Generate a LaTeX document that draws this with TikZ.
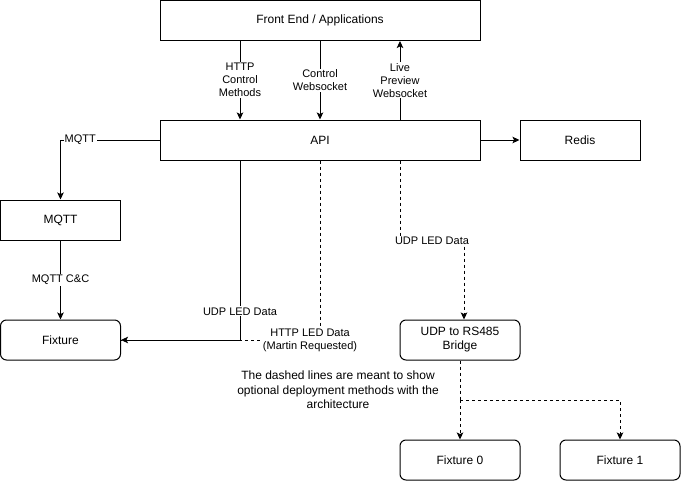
\documentclass[tikz,border=0pt]{standalone}
\usepackage{fontspec}
\setmainfont{Liberation Sans}
\usetikzlibrary{arrows.meta}
\begin{document}
\begin{tikzpicture}[x=1pt,y=-1pt, line width=1pt,
 box/.style={draw, minimum width=120pt, minimum height=40pt, inner sep=0pt, align=center, font=\fontsize{12}{14}\selectfont},
 rbox/.style={box, rounded corners=6pt},
 arr/.style={-{Stealth[length=7pt,width=6.5pt,inset=1.5pt]}},
 dsh/.style={dash pattern=on 3pt off 3pt},
 lbl/.style={fill=white, inner sep=1pt, align=center, font=\fontsize{11}{13}\selectfont}]
\useasboundingbox (0,0) rectangle (681,482);
\node[box, minimum width=320pt] (fe) at (320,20.5) {Front End / Applications};
\node[box, minimum width=320pt] (api) at (320,140) {API};
\node[box] (redis) at (580,140) {Redis};
\node[box] (mqtt) at (60.5,220) {MQTT};
\node[rbox] (fix) at (60.5,340) {Fixture};
\node[rbox] (bridge) at (460,340) {UDP to RS485\\Bridge};
\node[rbox] (f0) at (460,460) {Fixture 0};
\node[rbox] (f1) at (620,460) {Fixture 1};
\node[align=center, font=\fontsize{12}{14.5}\selectfont] (note) at (338,390) {The dashed lines are meant to show\\optional deployment methods with the\\architecture};
\coordinate (u1) at (400,241);
\coordinate (u2) at (464,241);
\coordinate (sp) at (460,400);
% front end <-> api
\draw[arr] ([xshift=-80pt]fe.south) -- node[lbl]{HTTP\\Control\\Methods} ([xshift=-80pt]api.north);
\draw[arr] (fe.south) -- node[lbl]{Control\\Websocket} (api.north);
\draw[arr] ([xshift=80pt]api.north) -- node[lbl]{Live\\Preview\\Websocket} ([xshift=80pt]fe.south);
% api -> mqtt, redis
\draw[arr] (api.west) -| node[lbl, pos=0.4]{MQTT} (mqtt.north);
\draw[arr] (api.east) -- (redis.west);
\draw[arr] (mqtt.south) -- node[lbl]{MQTT C\&C} (fix.north);
% api -> fixture
\draw[dsh] (api.south) |- node[lbl, pos=0.525]{HTTP LED Data\\(Martin Requested)} (fix.east);
\draw[arr] ([xshift=-80pt]api.south) |- node[lbl, pos=0.42]{UDP LED Data} (fix.east);
% api -> bridge
\draw[dsh, arr] ([xshift=80pt]api.south) -- (u1) -- node[lbl]{UDP LED Data} (u2) -- ([xshift=4pt]bridge.north);
% bridge -> fixtures
\draw[dsh] (bridge.south) -- (sp);
\draw[dsh, arr] (sp) -- (f0.north);
\draw[dsh, arr] (sp) -| (f1.north);
\end{tikzpicture}
\end{document}
